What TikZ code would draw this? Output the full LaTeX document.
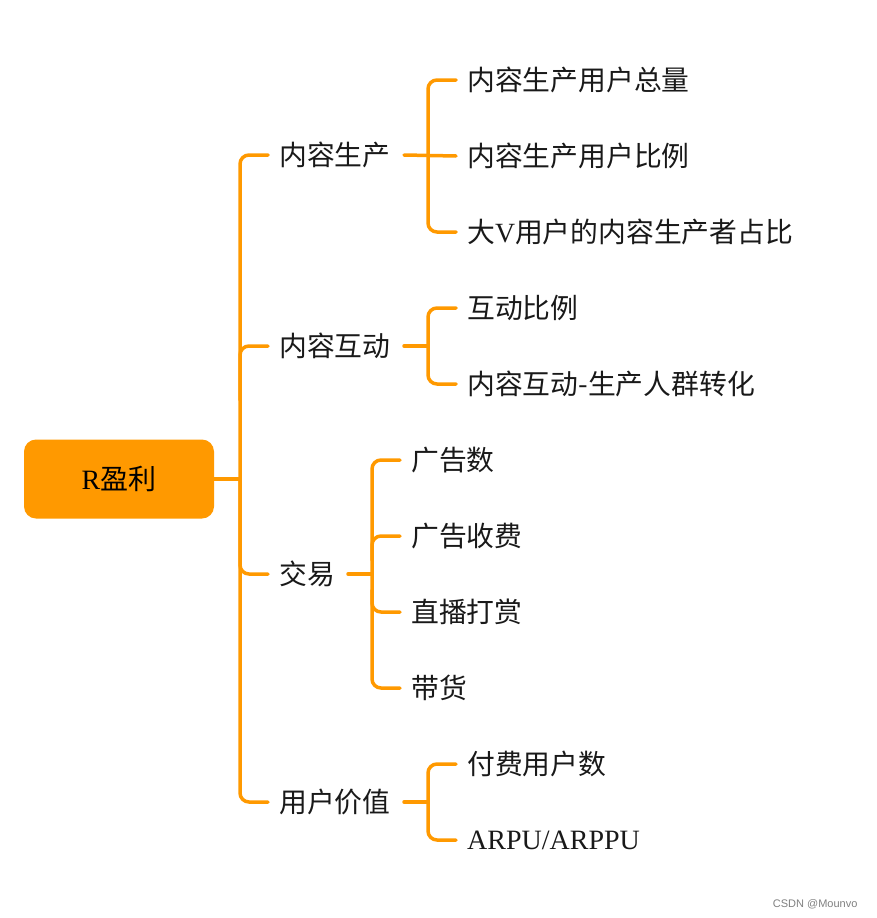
\documentclass[tikz,border=0pt]{standalone}
\usepackage{fontspec}
\setmainfont{Liberation Serif}
\newfontfamily\cjk{Noto Sans CJK SC}
\definecolor{org}{HTML}{FF9900}
\begin{document}
\begin{tikzpicture}[x=1pt,y=-1pt,
  lk/.style={draw=org,line width=3.5pt,rounded corners=9pt,line cap=round},
  lab/.style={anchor=west,inner sep=0pt,font=\fontsize{27.8}{30}\selectfont\cjk,text=black!90}]
\useasboundingbox (0,0) rectangle (876,918);
\node[fill=org,rounded corners=12pt,minimum width=190pt,minimum height=79pt,inner sep=0pt,font=\fontsize{28}{30}\selectfont] (root) at (119,479) {R{\cjk 盈利}};
% main level
\node[lab] (a) at (279,155) {内容生产};
\node[lab] (b) at (279,346) {内容互动};
\node[lab] (c) at (279,574) {交易};
\node[lab] (d) at (279,802) {用户价值};
\coordinate (m) at (240,479);
\draw[lk] (root.east) -- (m);
\draw[lk] ([xshift=-11pt]a.west) -- (240,155) -- (240,802) -- ([xshift=-11pt]d.west);
\draw[lk] (240,400) |- ([xshift=-11pt]b.west);
\draw[lk] (240,480) |- ([xshift=-11pt]c.west);
% leaves
\node[lab] (a1) at (467,80) {内容生产用户总量};
\node[lab] (a2) at (467,156) {内容生产用户比例};
\node[lab] (a3) at (467,232) {大{\rmfamily V}用户的内容生产者占比};
\node[lab] (b1) at (467,308) {互动比例};
\node[lab] (b2) at (467,384) {内容互动-生产人群转化};
\node[lab] (c1) at (411,460) {广告数};
\node[lab] (c2) at (411,536) {广告收费};
\node[lab] (c3) at (411,612) {直播打赏};
\node[lab] (c4) at (411,688) {带货};
\node[lab] (d1) at (467,764) {付费用户数};
\node[lab,font=\fontsize{28}{30}\selectfont\rmfamily] (d2) at (467,840) {ARPU/ARPPU};
% sub brackets
\coordinate (as) at (404,155);
\coordinate (bs) at (404,346);
\coordinate (cs) at (348,574);
\coordinate (ds) at (404,802);
\draw[lk] (as) -- ([xshift=-11pt]a2.west);
\draw[lk] ([xshift=-11pt]a1.west) -- (428,80) -- (428,232) -- ([xshift=-11pt]a3.west);
\draw[lk] (bs) -- (428,346);
\draw[lk] ([xshift=-11pt]b1.west) -- (428,308) -- (428,384) -- ([xshift=-11pt]b2.west);
\draw[lk] (cs) -- (372,574);
\draw[lk] ([xshift=-11pt]c1.west) -- (372,460) -- (372,688) -- ([xshift=-11pt]c4.west);
\draw[lk] (372,560) |- ([xshift=-11pt]c2.west);
\draw[lk] (372,590) |- ([xshift=-11pt]c3.west);
\draw[lk] (ds) -- (428,802);
\draw[lk] ([xshift=-11pt]d1.west) -- (428,764) -- (428,840) -- ([xshift=-11pt]d2.west);
\node[font=\fontsize{11}{12}\selectfont\fontspec{Liberation Sans},text=black!50,anchor=east] (w) at (861,904) {CSDN @Mounvo};
\end{tikzpicture}
\end{document}
